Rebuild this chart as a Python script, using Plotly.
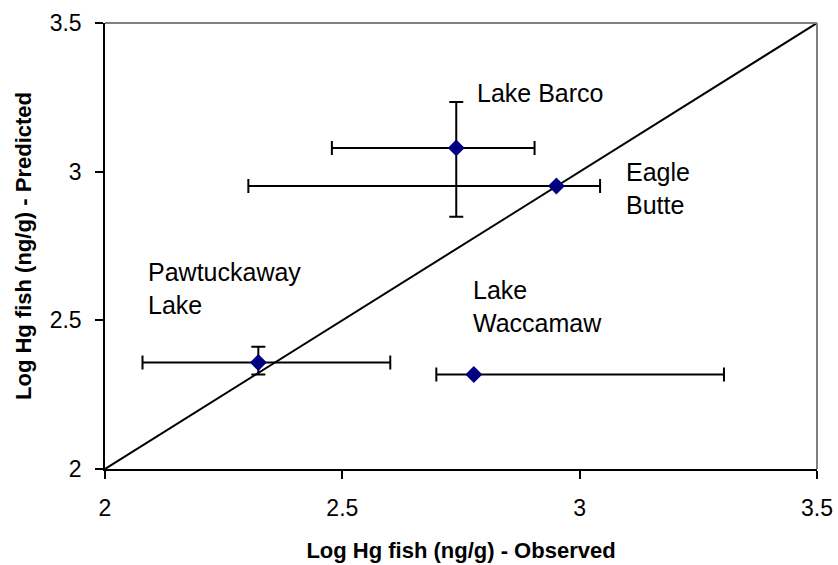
import plotly.graph_objects as go

# Data
lakes = ["Lake Barco", "Eagle Butte", "Pawtuckaway Lake", "Lake Waccamaw"]
observed = [2.740, 2.951, 2.323, 2.777]
predicted = [3.080, 2.952, 2.358, 2.318]
obs_err_plus = [0.165, 0.092, 0.278, 0.527]
obs_err_minus = [0.262, 0.649, 0.244, 0.079]
pred_err_plus = [0.154, 0.0, 0.053, 0.0]
pred_err_minus = [0.232, 0.0, 0.040, 0.0]

one_to_one_x = [2.0, 3.5]
one_to_one_y = [2.0, 3.5]

label_text = ["Lake Barco", "Eagle<br>Butte", "Pawtuckaway<br>Lake", "Lake<br>Waccamaw"]
label_x = [2.780, 3.093, 2.086, 2.772]
label_y = [3.265, 2.944, 2.608, 2.548]

x_ticks = [2, 2.5, 3, 3.5]
y_ticks = [2, 2.5, 3, 3.5]

FONT = "Liberation Sans, Arial, sans-serif"

fig = go.Figure()

fig.add_trace(go.Scatter(
    x=one_to_one_x, y=one_to_one_y, mode="lines",
    line=dict(color="black", width=2), showlegend=False, hoverinfo="skip"))

fig.add_trace(go.Scatter(
    x=observed, y=predicted, mode="markers",
    marker=dict(symbol="diamond", size=13, color="#000080"),
    error_x=dict(type="data", array=obs_err_plus, arrayminus=obs_err_minus,
                 color="black", thickness=2, width=7, symmetric=False),
    error_y=dict(type="data", array=pred_err_plus, arrayminus=pred_err_minus,
                 color="black", thickness=2, width=7, symmetric=False),
    text=lakes, showlegend=False))

for t, x, y in zip(label_text, label_x, label_y):
    fig.add_annotation(x=x, y=y, xref="x", yref="y", text=t, showarrow=False,
                       xanchor="left", yanchor="middle", align="left",
                       font=dict(family=FONT, size=25, color="black"))

# top and right frame lines (gray)
fig.add_shape(type="line", xref="paper", yref="paper", x0=0, x1=1, y0=1, y1=1,
              line=dict(color="#808080", width=2))
fig.add_shape(type="line", xref="paper", yref="paper", x0=1, x1=1, y0=0, y1=1,
              line=dict(color="#808080", width=2))

fig.update_xaxes(
    range=[2, 3.5], tickvals=x_ticks, ticktext=[str(v) for v in x_ticks],
    showgrid=False, zeroline=False, showline=True, linecolor="black", linewidth=1.5,
    ticks="outside", ticklen=8, tickcolor="black", tickwidth=1.5,
    ticklabelstandoff=10, automargin=False,
    tickfont=dict(family=FONT, size=23, color="black"),
    title=dict(text="<b>Log Hg fish (ng/g) - Observed</b>",
               font=dict(family=FONT, size=22, color="black"), standoff=22))
fig.update_yaxes(
    range=[2, 3.5], tickvals=y_ticks, ticktext=[str(v) for v in y_ticks],
    showgrid=False, zeroline=False, showline=True, linecolor="black", linewidth=1.5,
    ticks="outside", ticklen=8, tickcolor="black", tickwidth=1.5,
    ticklabelstandoff=9, automargin=False,
    tickfont=dict(family=FONT, size=23, color="black"),
    title=dict(text="<b>Log Hg fish (ng/g) - Predicted</b>",
               font=dict(family=FONT, size=22, color="black"), standoff=12))

fig.update_layout(
    width=838, height=565,
    margin=dict(l=105, r=21, t=23, b=96),
    paper_bgcolor="white", plot_bgcolor="white",
    font=dict(family=FONT, color="black"))

fig.write_html("out.html",
               config={"displayModeBar": False},
               post_script="document.body.style.margin='0';document.body.style.overflow='hidden';")
